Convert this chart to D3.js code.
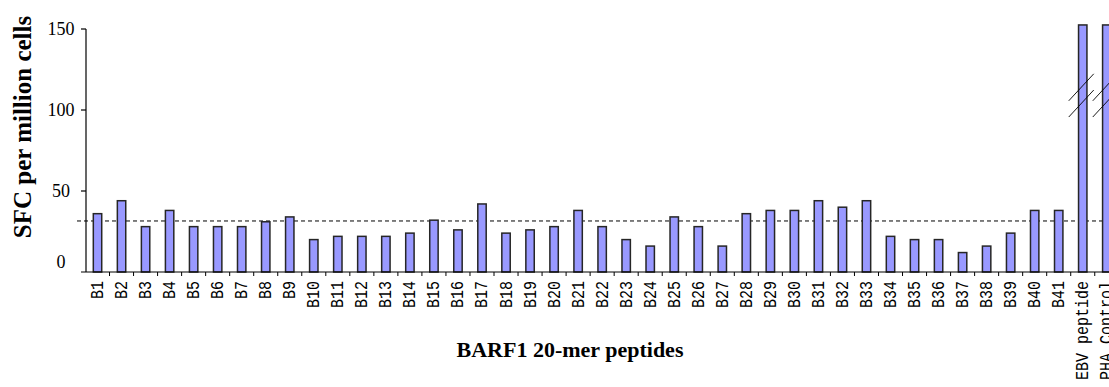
<!DOCTYPE html>
<html>
<head>
<meta charset="utf-8">
<script src="https://cdn.jsdelivr.net/npm/d3@7/dist/d3.min.js"></script>
<style>
  html, body { margin: 0; padding: 0; background: #ffffff; overflow: hidden; }
  svg { display: block; }
</style>
</head>
<body>
<svg id="chart" width="1109" height="387"></svg>
<script>
// Peptide pools along the x axis
const categories = [
  "B1","B2","B3","B4","B5","B6","B7","B8","B9","B10",
  "B11","B12","B13","B14","B15","B16","B17","B18","B19","B20",
  "B21","B22","B23","B24","B25","B26","B27","B28","B29","B30",
  "B31","B32","B33","B34","B35","B36","B37","B38","B39","B40",
  "B41","EBV peptide","PHA Control"
];

// Spot-forming cells per million cells (controls run off the top of the axis)
const sfcValues = [
  36, 44, 28, 38, 28, 28, 28, 31, 34, 20,
  22, 22, 22, 24, 32, 26, 42, 24, 26, 28,
  38, 28, 20, 16, 34, 28, 16, 36, 38, 38,
  44, 40, 44, 22, 20, 20, 12, 16, 24, 38,
  38, 152.5, 152.5
];

// Bars drawn with a broken (//) axis
const brokenBars = ["EBV peptide", "PHA Control"];

// Positivity cut-off (dashed line)
const cutoff = 31.5;

// Y axis ticks
const yTicks = [0, 50, 100, 150];

// Break marks, in data units
const breakLevels = [104, 114];

const svg = d3.select("#chart");

const bandStep = 24.03;
const x = d3.scaleBand()
  .domain(categories)
  .range([85.5, 85.5 + bandStep * categories.length])
  .padding(0);

const y = d3.scaleLinear()
  .domain([0, 150])
  .range([272, 29]);

const barW = 8.4;

// Dashed cut-off line
svg.append("line")
  .attr("x1", 77).attr("x2", 1109)
  .attr("y1", y(cutoff)).attr("y2", y(cutoff))
  .attr("stroke", "#000").attr("stroke-width", 1)
  .attr("stroke-dasharray", "4,3");

// Bars
svg.append("g")
  .selectAll("rect")
  .data(categories.map((c, i) => ({ c, v: sfcValues[i] })))
  .join("rect")
  .attr("x", d => x(d.c) + x.bandwidth() / 2 - barW / 2)
  .attr("y", d => y(d.v))
  .attr("width", barW)
  .attr("height", d => y(0) - y(d.v))
  .attr("fill", "#9999ff")
  .attr("stroke", "#262626")
  .attr("stroke-width", 1.5);

// Break marks on off-scale bars
const breaks = svg.append("g");
brokenBars.forEach(c => {
  const cx = x(c) + x.bandwidth() / 2 - 1.5;
  breakLevels.forEach(v => {
    breaks.append("line")
      .attr("x1", cx - 12.5).attr("y1", y(v) + 13.5)
      .attr("x2", cx + 12.5).attr("y2", y(v) - 13.5)
      .attr("stroke", "#000").attr("stroke-width", 0.9);
  });
});

// Y axis
const yAxisG = svg.append("g");
yAxisG.append("line")
  .attr("x1", 86).attr("x2", 86)
  .attr("y1", y(150)).attr("y2", y(0))
  .attr("stroke", "#000").attr("stroke-width", 1.2);
yAxisG.selectAll("line.tick")
  .data(yTicks.filter(t => t > 0))
  .join("line")
  .attr("class", "tick")
  .attr("x1", 81).attr("x2", 86)
  .attr("y1", d => y(d)).attr("y2", d => y(d))
  .attr("stroke", "#000").attr("stroke-width", 1.2);
yAxisG.selectAll("text")
  .data(yTicks)
  .join("text")
  .attr("x", 61)
  .attr("y", d => y(d) + (d === 0 ? -10 : 0))
  .attr("dy", "0.34em")
  .attr("text-anchor", "middle")
  .attr("font-family", "'Liberation Serif', 'Times New Roman', serif")
  .attr("font-size", 18)
  .attr("fill", "#000")
  .text(d => d);

// X axis with tick marks between categories
const xAxisG = svg.append("g");
xAxisG.append("line")
  .attr("x1", 81).attr("x2", 1109)
  .attr("y1", y(0)).attr("y2", y(0))
  .attr("stroke", "#000").attr("stroke-width", 1.2);
xAxisG.selectAll("line.tick")
  .data(categories)
  .join("line")
  .attr("class", "tick")
  .attr("x1", d => x(d) + x.bandwidth()).attr("x2", d => x(d) + x.bandwidth())
  .attr("y1", y(0)).attr("y2", y(0) + 4)
  .attr("stroke", "#000").attr("stroke-width", 1);

// Category labels, rotated and slightly stretched across the reading direction
xAxisG.selectAll("text")
  .data(categories)
  .join("text")
  .attr("transform", d => `translate(${x(d) + x.bandwidth() / 2 + 5.5},281) rotate(-90) scale(1,1.25)`)
  .attr("text-anchor", "end")
  .attr("font-family", "'Liberation Mono', 'Courier New', monospace")
  .attr("font-size", 15)
  .attr("fill", "#000")
  .text(d => d);

// Axis titles
svg.append("text")
  .attr("transform", "translate(31,127) rotate(-90)")
  .attr("text-anchor", "middle")
  .attr("font-family", "'Liberation Serif', 'Times New Roman', serif")
  .attr("font-weight", "bold")
  .attr("font-size", 25)
  .attr("fill", "#000")
  .text("SFC per million cells");

svg.append("text")
  .attr("x", 570).attr("y", 357)
  .attr("text-anchor", "middle")
  .attr("font-family", "'Liberation Serif', 'Times New Roman', serif")
  .attr("font-weight", "bold")
  .attr("font-size", 22)
  .attr("fill", "#000")
  .text("BARF1 20-mer peptides");
</script>
</body>
</html>
